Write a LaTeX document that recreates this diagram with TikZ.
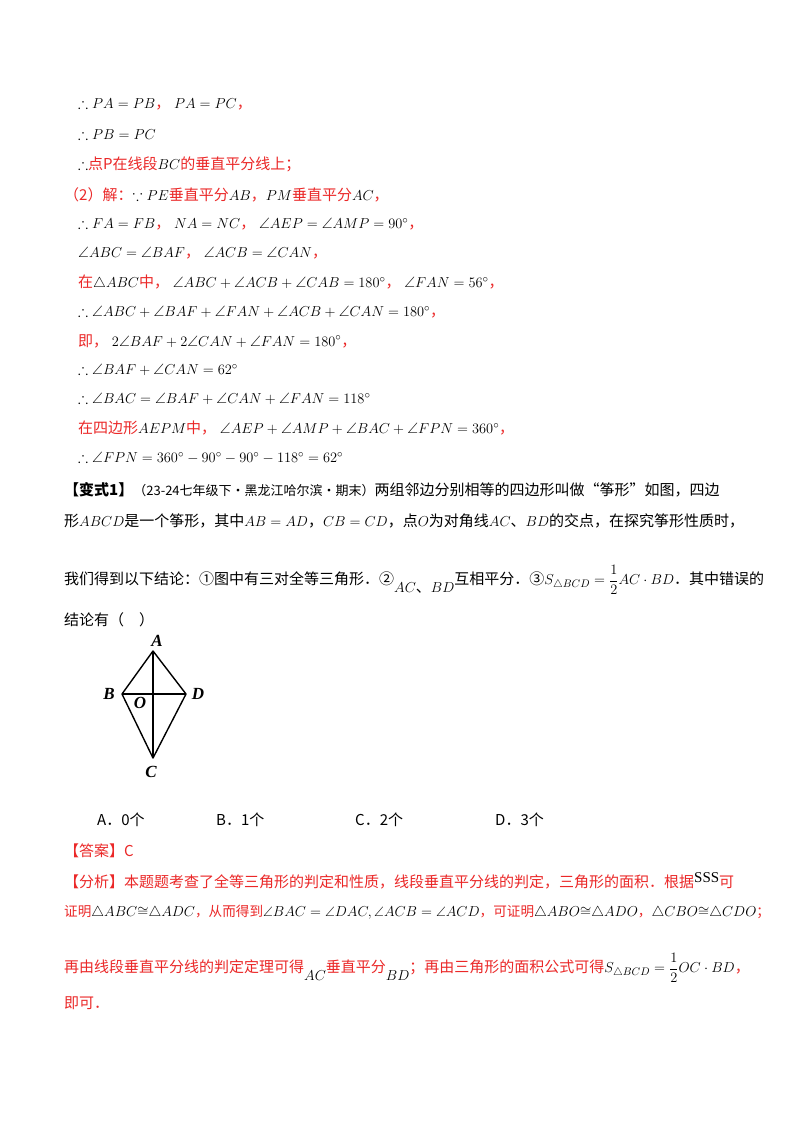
\documentclass[tikz,border=0pt]{standalone}
\usepackage{amsmath,amssymb}
\usepackage{fontspec}
\setmainfont{Liberation Serif}
\newfontfamily\cjk{Noto Sans CJK SC}
\definecolor{ans}{RGB}{235,40,40}
\newcommand{\R}[1]{{\cjk\color{ans}#1}}
\newcommand{\K}[1]{{\cjk #1}}
\begin{document}
\begin{tikzpicture}[x=1pt,y=-1pt,
  ln/.style={anchor=west,inner sep=0pt,font=\fontsize{15}{18}\selectfont},
  sm/.style={anchor=west,inner sep=0pt,font=\fontsize{13.6}{17}\selectfont},
  lab/.style={font=\fontsize{17}{17}\selectfont\itshape\bfseries,inner sep=0pt},
  edge/.style={line width=1.4pt}]
\useasboundingbox[fill=white] (0,0) rectangle (800,1132);
\node[ln] (l1) at (78,104) {$\therefore PA=PB$\R{，} $PA=PC$\R{，}};
\node[ln] (l2) at (78,134) {$\therefore PB=PC$};
\node[ln] (l3) at (78,164) {$\therefore$\R{点P在线段}$BC$\R{的垂直平分线上；}};
\node[ln] (l4) at (64,195) {\R{（2）解：}$\because PE$\R{垂直平分}$AB$\R{，}$PM$\R{垂直平分}$AC$\R{，}};
\node[ln] (l5) at (78,224) {$\therefore FA=FB$\R{，} $NA=NC$\R{，} $\angle AEP=\angle AMP=90^\circ$\R{，}};
\node[ln] (l6) at (78,253) {$\angle ABC=\angle BAF$\R{，} $\angle ACB=\angle CAN$\R{，}};
\node[ln] (l7) at (78,283) {\R{在}$\triangle ABC$\R{中，} $\angle ABC+\angle ACB+\angle CAB=180^\circ$\R{，} $\angle FAN=56^\circ$\R{，}};
\node[ln] (l8) at (78,312) {$\therefore \angle ABC+\angle BAF+\angle FAN+\angle ACB+\angle CAN=180^\circ$\R{，}};
\node[ln] (l9) at (78,341) {\R{即，} $2\angle BAF+2\angle CAN+\angle FAN=180^\circ$\R{，}};
\node[ln] (l10) at (78,370) {$\therefore \angle BAF+\angle CAN=62^\circ$};
\node[ln] (l11) at (78,399) {$\therefore \angle BAC=\angle BAF+\angle CAN+\angle FAN=118^\circ$};
\node[ln] (l12) at (78,428) {\R{在四边形}$AEPM$\R{中，} $\angle AEP+\angle AMP+\angle BAC+\angle FPN=360^\circ$\R{，}};
\node[ln] (l13) at (78,458) {$\therefore \angle FPN=360^\circ-90^\circ-90^\circ-118^\circ=62^\circ$};
\node[ln] (q1) at (64,490) {\K{\textbf{【变式1】}{\fontsize{13}{15}\selectfont（23-24七年级下·黑龙江哈尔滨·期末）}两组邻边分别相等的四边形叫做“筝形”如图，四边}};
\node[ln] (q2) at (64,521) {\K{形}$ABCD$\K{是一个筝形，其中}$AB=AD$\K{，}$CB=CD$\K{，点}$O$\K{为对角线}$AC$\K{、}$BD$\K{的交点，在探究筝形性质时，}};
\node[ln] (q3) at (64,580) {\K{我们得到以下结论：①图中有三对全等三角形．②}\raisebox{-1.2ex}{$AC$\K{、}$BD$}\K{互相平分．③}$S_{\triangle BCD}=\dfrac12 AC\cdot BD$\K{．其中错误的}};
\node[ln] (q4) at (64,620) {\K{结论有（\quad）}};
\coordinate (A) at (153,651);
\coordinate (B) at (122,694);
\coordinate (D) at (186,694);
\coordinate (C) at (153,758);
\draw[edge,line join=round] (A) -- (B) -- (C) -- (D) -- cycle;
\draw[edge] (A) -- (C) (B) -- (D);
\node[lab] (la) at (157,641) {A};
\node[lab] (lb) at (109,694) {B};
\node[lab] (ld) at (198,694) {D};
\node[lab] (lc) at (151,772) {C};
\node[lab] (lo) at (140,703) {O};
\node[ln] (oa) at (97,820) {\K{A．0个}};
\node[ln] (ob) at (216,820) {\K{B．1个}};
\node[ln] (oc) at (355,820) {\K{C．2个}};
\node[ln] (od) at (495,820) {\K{D．3个}};
\node[ln] (an) at (64,851) {\R{【答案】C}};
\node[ln] (f1) at (64,881) {\R{【分析】本题题考查了全等三角形的判定和性质，线段垂直平分线的判定，三角形的面积．根据}\raisebox{0.8ex}{\textrm{SSS}}\R{可}};
\node[sm] (f2) at (64,912) {\R{证明}$\triangle ABC{\cong}\triangle ADC$\R{，从而得到}$\angle BAC=\angle DAC,\angle ACB=\angle ACD$\R{，可证明}$\triangle ABO{\cong}\triangle ADO$\R{，}$\triangle CBO{\cong}\triangle CDO$\R{；}};
\node[ln] (f3) at (64,968) {\R{再由线段垂直平分线的判定定理可得}\raisebox{-1.2ex}{$AC$}\R{垂直平分}\raisebox{-1.2ex}{$BD$}\R{；再由三角形的面积公式可得}$S_{\triangle BCD}=\dfrac12 OC\cdot BD$\R{，}};
\node[ln] (f4) at (64,1003) {\R{即可．}};
\end{tikzpicture}
\end{document}
